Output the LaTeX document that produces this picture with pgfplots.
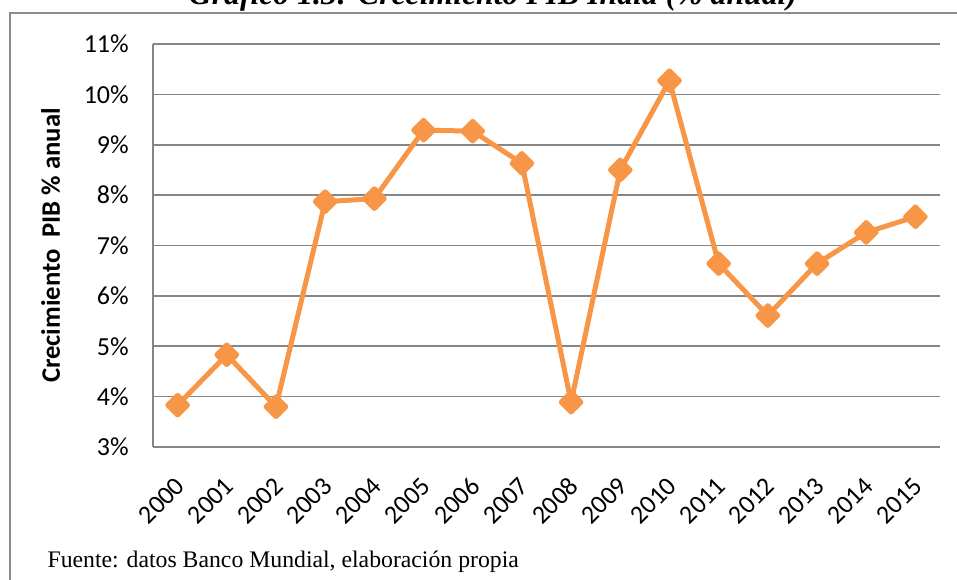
\documentclass[border=0pt]{standalone}
\usepackage{pgfplots}
\pgfplotsset{compat=1.18}
\usepackage{fontspec}
\setmainfont{Carlito}
\newfontfamily\tnr{Liberation Serif}
\definecolor{lineorange}{HTML}{F79646}
\definecolor{gridgray}{HTML}{868686}
\definecolor{framegray}{HTML}{8C8C8C}
\pgfplotstableread{
x y
0 3.83
1 4.83
2 3.80
3 7.87
4 7.93
5 9.29
6 9.27
7 8.63
8 3.89
9 8.50
10 10.27
11 6.64
12 5.61
13 6.64
14 7.26
15 7.57
}\gdpdata
\begin{document}
\begin{tikzpicture}
\useasboundingbox (0,0) rectangle (717.75pt,435pt);
% outer frame
\draw[framegray, line width=1.5pt] (7.5pt,0pt) -- (7.5pt,425.25pt) -- (720pt,425.25pt);
% title (partially cut off)
\node[anchor=base, inner sep=0pt, font=\tnr\bfseries\itshape\fontsize{23.8}{26}\selectfont] at (369.75pt,431.25pt) {Gráfico 1.3: Crecimiento PIB India (\% anual)};
% source
\node[anchor=base west, inner sep=0pt, font=\tnr\fontsize{17.8}{20}\selectfont] at (35.5pt,9pt) {Fuente: datos Banco Mundial, elaboración propia};
\begin{axis}[
  at={(114.75pt,99.75pt)}, anchor=south west,
  width=590.25pt, height=302.25pt, scale only axis,
  xmin=-0.5, xmax=15.5, ymin=3, ymax=11,
  xtick={0,...,15},
  xticklabels={2000,2001,2002,2003,2004,2005,2006,2007,2008,2009,2010,2011,2012,2013,2014,2015},
  ytick={3,4,5,6,7,8,9,10,11},
  yticklabels={3\%,4\%,5\%,6\%,7\%,8\%,9\%,10\%,11\%},
  axis x line*=bottom, axis y line*=left,
  axis line style={-, gridgray, line width=1.2pt},
  ymajorgrids, grid style={gridgray, line width=1.2pt},
  major tick length=0pt,
  tick label style={font=\fontsize{19.5}{21}\selectfont},
  yticklabel style={anchor=east, inner sep=0pt, xshift=-18pt},
  xticklabel style={xshift=2pt, yshift=-26pt, rotate=45, anchor=east, inner sep=0pt},
  ylabel={Crecimiento\ \ PIB \% anual},
  ylabel style={at={(axis description cs:-0.13,0.5)}, anchor=center, font=\bfseries\fontsize{20}{22}\selectfont},
  clip=false,
]
\addplot[lineorange, line width=3.75pt, line join=round, mark=square*, mark size=5.2pt, mark options={rotate=45, solid, fill=lineorange, draw=none}] table[x=x,y=y] {\gdpdata};
\end{axis}
\end{tikzpicture}
\end{document}
